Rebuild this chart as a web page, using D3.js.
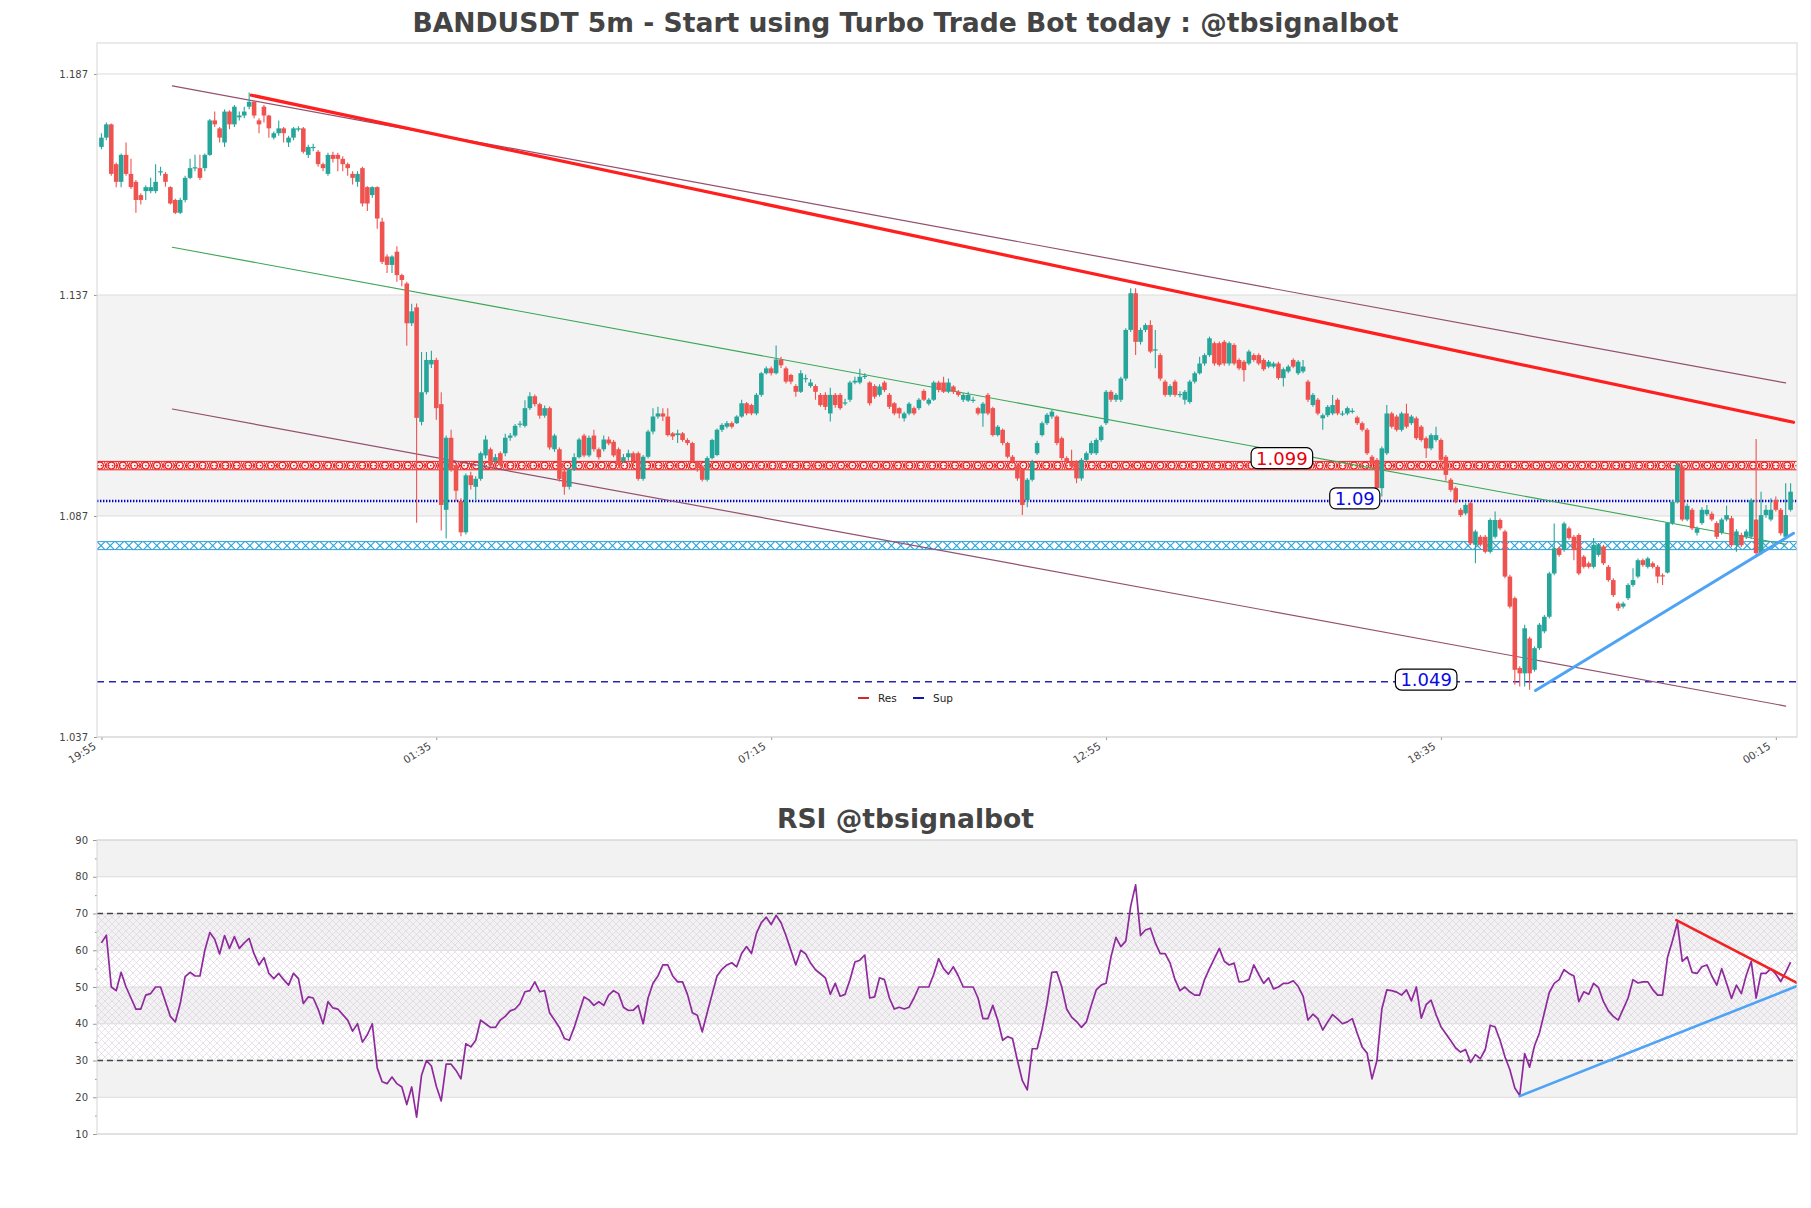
<!DOCTYPE html>
<html><head><meta charset="utf-8">
<script src="https://cdn.jsdelivr.net/npm/d3@7"></script>
<style>
html,body{margin:0;padding:0;background:#fff;}
svg{display:block;font-family:"DejaVu Sans",sans-serif;}
</style></head><body>
<svg id="chart" width="1811" height="1208"></svg>
<script>
// ---------------- DATA ----------------
const chartTitle = "BANDUSDT 5m - Start using Turbo Trade Bot today : @tbsignalbot";
const rsiTitle = "RSI @tbsignalbot";
const timeTickIndex = [0, 68, 136, 204, 272, 340];
const timeTickLabels = ["19:55", "01:35", "07:15", "12:55", "18:35", "00:15"];
const priceTicks = [1.037, 1.087, 1.137, 1.187];
const rsiTicks = [10, 20, 30, 40, 50, 60, 70, 80, 90];

const opens = [
1.1705,1.1726,1.1756,1.1666,1.1626,1.1687,1.1644,1.1626,1.1596,1.1605,
1.1605,1.1605,1.1648,1.1644,1.1614,1.1585,1.1556,1.1585,1.1635,1.1657,
1.1657,1.1657,1.1687,1.1765,1.1747,1.1715,1.1785,1.1756,1.1772,1.1776,
1.1796,1.1807,1.1765,1.1796,1.1776,1.1726,1.1736,1.1747,1.1715,1.1726,
1.1744,1.1747,1.1687,1.1703,1.1694,1.1666,1.1644,1.1687,1.1687,1.1678,
1.1666,1.1644,1.1626,1.1657,1.1614,1.1596,1.1614,1.1536,1.1457,1.1438,
1.1468,1.1415,1.1396,1.1306,1.1342,1.1083,1.1150,1.1213,1.1223,1.1123,
1.0884,1.1047,1.0985,1.0904,1.0833,1.0962,1.0936,1.0954,1.1007,1.1021,
1.0994,1.1012,1.1012,1.1047,1.1052,1.1077,1.1074,1.1114,1.1141,1.1123,
1.1097,1.1114,1.1021,1.1021,1.0971,1.0936,1.0976,1.1003,1.1052,1.1007,
1.1052,1.1021,1.1021,1.1043,1.1038,1.1021,1.0994,1.1003,1.1012,1.1012,
1.0954,1.1004,1.1061,1.1095,1.1102,1.1095,1.1057,1.1053,1.1057,1.1042,
1.1035,1.0993,1.0982,1.0952,1.1001,1.1008,1.1065,1.1072,1.1080,1.1080,
1.1095,1.1125,1.1121,1.1102,1.1144,1.1193,1.1204,1.1193,1.1224,1.1204,
1.1189,1.1164,1.1151,1.1180,1.1164,1.1164,1.1144,1.1144,1.1102,1.1144,
1.1144,1.1125,1.1133,1.1172,1.1172,1.1185,1.1172,1.1164,1.1144,1.1172,
1.1144,1.1125,1.1114,1.1091,1.1102,1.1114,1.1114,1.1153,1.1124,1.1133,
1.1172,1.1172,1.1151,1.1163,1.1151,1.1133,1.1131,1.1132,1.1114,1.1102,
1.1144,1.1114,1.1053,1.1065,1.1035,1.1004,1.0985,1.0974,1.0906,1.0952,
1.1012,1.1053,1.1080,1.1095,1.1095,1.1046,1.1001,1.0993,1.0993,1.0955,
1.0997,1.1012,1.1012,1.1042,1.1080,1.1151,1.1133,1.1133,1.1181,1.1291,
1.1374,1.1264,1.1291,1.1302,1.1245,1.1234,1.1174,1.1144,1.1174,1.1144,
1.1133,1.1128,1.1174,1.1193,1.1215,1.1234,1.1261,1.1261,1.1264,1.1215,
1.1257,1.1223,1.1219,1.1215,1.1234,1.1234,1.1223,1.1208,1.1208,1.1215,
1.1182,1.1197,1.1223,1.1193,1.1197,1.1174,1.1121,1.1133,1.1091,1.1098,
1.1102,1.1133,1.1101,1.1102,1.1107,1.1093,1.1080,1.1065,1.1004,1.0997,
1.0933,1.1012,1.1102,1.1095,1.1065,1.1102,1.1080,1.1091,1.1072,1.1046,
1.1023,1.1042,1.1042,1.1004,1.0952,1.0933,1.0884,1.0876,1.0899,1.0805,
1.0823,1.0823,1.0789,1.0823,1.0861,1.0835,1.0733,1.0684,1.0526,1.0514,
1.0593,1.0522,1.0571,1.0609,1.0642,1.0740,1.0797,1.0793,1.0842,1.0823,
1.0827,1.0778,1.0763,1.0755,1.0782,1.0801,1.0755,1.0725,1.0672,1.0665,
1.0684,1.0714,1.0733,1.0770,1.0755,1.0763,1.0755,1.0736,1.0742,1.0854,
1.0902,1.0982,1.0862,1.0884,1.0832,1.0854,1.0874,1.0875,1.0854,1.0832,
1.0862,1.0865,1.0804,1.0827,1.0823,1.0823,1.0862,1.0786,1.0872,1.0862,
1.0906,1.0884,1.0823,1.0884];

const highs = [
1.1736,1.1760,1.1758,1.1670,1.1690,1.1715,1.1678,1.1630,1.1600,1.1618,
1.1635,1.1666,1.1660,1.1648,1.1616,1.1588,1.1590,1.1640,1.1678,1.1687,
1.1687,1.1690,1.1768,1.1785,1.1750,1.1790,1.1788,1.1800,1.1785,1.1796,
1.1828,1.1810,1.1770,1.1800,1.1778,1.1740,1.1765,1.1750,1.1730,1.1750,
1.1752,1.1750,1.1710,1.1712,1.1698,1.1670,1.1692,1.1694,1.1692,1.1684,
1.1670,1.1650,1.1650,1.1660,1.1616,1.1616,1.1616,1.1545,1.1462,1.1460,
1.1480,1.1418,1.1400,1.1350,1.1351,1.1241,1.1241,1.1244,1.1228,1.1150,
1.1052,1.1065,1.0990,1.0910,1.0966,1.0970,1.0960,1.1016,1.1052,1.1025,
1.1010,1.1016,1.1056,1.1058,1.1078,1.1085,1.1132,1.1150,1.1145,1.1126,
1.1120,1.1118,1.1056,1.1025,1.0975,1.0980,1.1012,1.1047,1.1056,1.1052,
1.1065,1.1025,1.1052,1.1050,1.1042,1.1025,1.1010,1.1020,1.1016,1.1016,
1.1008,1.1065,1.1114,1.1117,1.1114,1.1114,1.1060,1.1065,1.1060,1.1046,
1.1038,1.0995,1.0985,1.1005,1.1045,1.1068,1.1080,1.1085,1.1084,1.1098,
1.1133,1.1128,1.1124,1.1148,1.1196,1.1208,1.1208,1.1256,1.1230,1.1208,
1.1192,1.1168,1.1200,1.1190,1.1180,1.1168,1.1148,1.1150,1.1160,1.1148,
1.1148,1.1135,1.1176,1.1185,1.1203,1.1193,1.1175,1.1168,1.1168,1.1176,
1.1148,1.1128,1.1116,1.1106,1.1128,1.1118,1.1137,1.1157,1.1137,1.1176,
1.1176,1.1185,1.1181,1.1166,1.1155,1.1148,1.1151,1.1140,1.1117,1.1128,
1.1148,1.1117,1.1076,1.1068,1.1038,1.1008,1.0988,1.0978,1.0956,1.0997,
1.1040,1.1084,1.1103,1.1110,1.1098,1.1050,1.1005,1.1020,1.0996,1.1001,
1.1016,1.1040,1.1046,1.1076,1.1155,1.1155,1.1148,1.1185,1.1295,1.1385,
1.1385,1.1296,1.1306,1.1313,1.1291,1.1238,1.1178,1.1168,1.1178,1.1152,
1.1155,1.1178,1.1197,1.1230,1.1238,1.1276,1.1265,1.1265,1.1268,1.1265,
1.1261,1.1227,1.1223,1.1246,1.1238,1.1238,1.1227,1.1223,1.1219,1.1219,
1.1206,1.1212,1.1227,1.1223,1.1223,1.1178,1.1148,1.1137,1.1102,1.1121,
1.1144,1.1137,1.1108,1.1118,1.1114,1.1097,1.1084,1.1069,1.1008,1.1001,
1.1027,1.1121,1.1106,1.1099,1.1106,1.1124,1.1099,1.1095,1.1076,1.1050,
1.1057,1.1072,1.1046,1.1008,1.0956,1.0937,1.0888,1.0899,1.0903,1.0839,
1.0827,1.0827,1.0865,1.0880,1.0865,1.0839,1.0737,1.0688,1.0530,1.0624,
1.0597,1.0575,1.0628,1.0646,1.0744,1.0853,1.0801,1.0857,1.0846,1.0827,
1.0831,1.0782,1.0767,1.0820,1.0809,1.0805,1.0759,1.0729,1.0676,1.0676,
1.0718,1.0752,1.0774,1.0774,1.0778,1.0767,1.0759,1.0740,1.0856,1.0906,
1.0990,1.0986,1.0898,1.0888,1.0846,1.0890,1.0895,1.0880,1.0858,1.0866,
1.0893,1.0870,1.0840,1.0832,1.0840,1.0910,1.1044,1.0925,1.0895,1.0910,
1.0914,1.0888,1.0944,1.0944];

const lows = [
1.1700,1.1720,1.1640,1.1614,1.1614,1.1640,1.1610,1.1556,1.1575,1.1585,
1.1600,1.1600,1.1640,1.1615,1.1575,1.1553,1.1553,1.1580,1.1632,1.1650,
1.1630,1.1650,1.1685,1.1750,1.1715,1.1705,1.1745,1.1750,1.1765,1.1770,
1.1790,1.1770,1.1736,1.1760,1.1726,1.1722,1.1730,1.1715,1.1705,1.1720,
1.1740,1.1690,1.1680,1.1695,1.1660,1.1650,1.1640,1.1670,1.1650,1.1650,
1.1640,1.1620,1.1615,1.1570,1.1560,1.1590,1.1520,1.1440,1.1420,1.1420,
1.1400,1.1390,1.1255,1.1300,1.0855,1.1075,1.1145,1.1205,1.1088,1.0837,
1.0819,1.0970,1.0904,1.0824,1.0828,1.0930,1.0904,1.0950,1.1000,1.0980,
1.0990,1.0980,1.1005,1.1040,1.1048,1.1070,1.1070,1.1110,1.1118,1.1090,
1.1092,1.1020,1.1015,1.0948,1.0918,1.0930,1.0972,1.1000,1.1003,1.1003,
1.1016,1.0998,1.1016,1.1030,1.1003,1.0980,1.0990,1.0995,1.0985,1.0950,
1.0950,1.1000,1.1055,1.1090,1.1085,1.1050,1.1042,1.1035,1.1038,1.1030,
1.0990,1.0970,1.0948,1.0948,1.0998,1.1005,1.1060,1.1068,1.1068,1.1078,
1.1092,1.1098,1.1098,1.1098,1.1140,1.1190,1.1188,1.1190,1.1205,1.1170,
1.1168,1.1140,1.1148,1.1172,1.1160,1.1133,1.1117,1.1110,1.1084,1.1115,
1.1110,1.1120,1.1128,1.1168,1.1168,1.1180,1.1120,1.1135,1.1140,1.1150,
1.1112,1.1098,1.1091,1.1084,1.1098,1.1098,1.1110,1.1130,1.1120,1.1130,
1.1150,1.1148,1.1148,1.1146,1.1140,1.1128,1.1128,1.1126,1.1098,1.1072,
1.1098,1.1050,1.1050,1.1030,1.1000,1.0988,1.0950,1.0872,1.0890,1.0948,
1.1008,1.1050,1.1076,1.1090,1.1030,1.0996,1.0988,1.0978,1.0944,1.0950,
1.0993,1.1008,1.1008,1.1038,1.1076,1.1128,1.1128,1.1128,1.1176,1.1286,
1.1234,1.1258,1.1286,1.1238,1.1204,1.1176,1.1140,1.1140,1.1140,1.1138,
1.1122,1.1124,1.1170,1.1190,1.1210,1.1230,1.1210,1.1208,1.1210,1.1210,
1.1211,1.1200,1.1174,1.1211,1.1219,1.1211,1.1198,1.1204,1.1204,1.1178,
1.1163,1.1193,1.1204,1.1189,1.1193,1.1128,1.1117,1.1098,1.1065,1.1094,
1.1098,1.1098,1.1096,1.1098,1.1102,1.1076,1.1061,1.1008,1.0985,1.0929,
1.0914,1.1008,1.1068,1.1061,1.1061,1.1068,1.1076,1.1042,1.1038,1.1001,
1.1019,1.1038,1.0993,1.0950,1.0925,1.0899,1.0868,1.0872,1.0804,1.0763,
1.0801,1.0785,1.0785,1.0819,1.0838,1.0729,1.0661,1.0488,1.0484,1.0484,
1.0477,1.0518,1.0567,1.0605,1.0638,1.0736,1.0778,1.0789,1.0816,1.0770,
1.0736,1.0751,1.0751,1.0751,1.0778,1.0759,1.0721,1.0687,1.0655,1.0661,
1.0680,1.0710,1.0729,1.0755,1.0751,1.0751,1.0718,1.0714,1.0740,1.0850,
1.0898,1.0858,1.0858,1.0838,1.0826,1.0850,1.0870,1.0858,1.0818,1.0828,
1.0858,1.0800,1.0789,1.0800,1.0818,1.0818,1.0782,1.0782,1.0866,1.0858,
1.0880,1.0826,1.0818,1.0880];

const closes = [
1.1726,1.1756,1.1644,1.1626,1.1687,1.1644,1.1614,1.1585,1.1585,1.1614,
1.1614,1.1626,1.1650,1.1626,1.1577,1.1556,1.1585,1.1635,1.1657,1.1659,
1.1635,1.1687,1.1765,1.1756,1.1726,1.1785,1.1756,1.1796,1.1776,1.1785,
1.1807,1.1776,1.1756,1.1776,1.1747,1.1736,1.1747,1.1736,1.1726,1.1747,
1.1747,1.1694,1.1705,1.1705,1.1666,1.1657,1.1687,1.1678,1.1678,1.1666,
1.1657,1.1635,1.1644,1.1577,1.1577,1.1614,1.1543,1.1445,1.1438,1.1457,
1.1415,1.1404,1.1306,1.1333,1.1092,1.1150,1.1223,1.1223,1.1114,1.0895,
1.1047,1.0976,1.0927,1.0833,1.0962,1.0940,1.0954,1.1012,1.1043,1.0985,
1.1003,1.0985,1.1047,1.1052,1.1074,1.1079,1.1114,1.1141,1.1123,1.1097,
1.1114,1.1025,1.1052,1.0954,1.0936,1.0976,1.1003,1.1043,1.1007,1.1047,
1.1021,1.1003,1.1043,1.1034,1.1007,1.0985,1.1003,1.1012,1.0994,1.0954,
1.1004,1.1061,1.1095,1.1102,1.1095,1.1053,1.1050,1.1057,1.1042,1.1035,
1.0993,1.0978,1.0952,1.1001,1.1042,1.1065,1.1076,1.1080,1.1072,1.1095,
1.1125,1.1102,1.1102,1.1144,1.1193,1.1204,1.1193,1.1224,1.1211,1.1174,
1.1174,1.1151,1.1193,1.1182,1.1172,1.1151,1.1121,1.1117,1.1144,1.1121,
1.1114,1.1127,1.1172,1.1176,1.1185,1.1187,1.1125,1.1140,1.1163,1.1155,
1.1117,1.1102,1.1102,1.1102,1.1124,1.1102,1.1133,1.1133,1.1133,1.1172,
1.1155,1.1151,1.1172,1.1151,1.1144,1.1144,1.1144,1.1133,1.1102,1.1124,
1.1102,1.1053,1.1072,1.1035,1.1004,1.0993,1.0955,1.0895,1.0952,1.0993,
1.1035,1.1080,1.1099,1.1106,1.1035,1.1001,1.0993,1.0982,1.0955,1.0997,
1.1012,1.1035,1.1042,1.1072,1.1151,1.1133,1.1144,1.1181,1.1291,1.1374,
1.1264,1.1291,1.1302,1.1242,1.1247,1.1181,1.1144,1.1164,1.1144,1.1146,
1.1151,1.1174,1.1193,1.1215,1.1234,1.1272,1.1215,1.1212,1.1215,1.1261,
1.1215,1.1204,1.1200,1.1242,1.1223,1.1215,1.1202,1.1219,1.1215,1.1182,
1.1202,1.1208,1.1208,1.1219,1.1208,1.1133,1.1144,1.1102,1.1098,1.1117,
1.1121,1.1102,1.1102,1.1114,1.1108,1.1080,1.1065,1.1012,1.0990,1.0933,
1.1023,1.1102,1.1072,1.1065,1.1102,1.1072,1.1095,1.1046,1.1042,1.1023,
1.1053,1.1053,1.0997,1.0963,1.0929,1.0903,1.0872,1.0895,1.0808,1.0835,
1.0805,1.0789,1.0861,1.0861,1.0842,1.0733,1.0665,1.0522,1.0514,1.0616,
1.0514,1.0571,1.0624,1.0642,1.0740,1.0797,1.0782,1.0853,1.0820,1.0793,
1.0740,1.0755,1.0755,1.0805,1.0805,1.0763,1.0725,1.0691,1.0661,1.0672,
1.0714,1.0725,1.0770,1.0759,1.0774,1.0755,1.0733,1.0733,1.0854,1.0902,
1.0985,1.0862,1.0893,1.0842,1.0842,1.0884,1.0884,1.0862,1.0823,1.0862,
1.0872,1.0804,1.0835,1.0804,1.0835,1.0906,1.0786,1.0872,1.0884,1.0884,
1.0884,1.0831,1.0872,1.0925];

const rsi = [
62,64.1,50,49,54,50,47,44,44,47.8,
48.2,50,50,46,42,40.5,45.5,52.8,54,53,
53,60,64.8,63,59,64,60.5,63.7,60.5,62,
63.2,59,56,58,53.7,52.3,53.7,52,50.5,53.7,
52.3,45.5,47.3,47,44,40,46,44.3,44,42.5,
41,38,40,35,37,40,28,24.2,23.7,25.5,
23.7,22.8,18,22.8,14.6,26,30,28.5,23,19,
29,29,27.3,25,34.6,33.7,35.5,41,40,39,
39,41,42,43.5,44,45.5,48.7,49,51.4,48.7,
49,43,41,39,36,35.5,39,43.2,47.3,46.5,
45,46,45,47.8,49,48.2,44.5,43.6,43.7,45,
40,47,51,53,56,56,53,51.4,51.4,48,
43,42.3,37.8,43,48,53,54.8,56,56.6,55.5,
59.1,61,59.1,64.6,67.5,69,67,69.5,67.5,64,
60,56,60,59,56.5,54.7,53.6,52.5,48,51,
47.5,48,52,56.8,57.3,58.7,47,47.3,52.5,52,
47,44,44.5,44,44.5,47,50,50,50,53.4,
57.7,55,53.5,55.5,53,50,50,50,47,41.4,
41.4,45,41,35.5,36.5,36,30,24.5,22,33.2,
33.2,38.5,45.5,54,54.1,50,44,41.8,40.6,39,
40.5,45,49.2,50.5,51,58.2,63.5,61,62.5,72,
77.8,64,65.5,66,62,59.1,59.1,56.5,52,49,
50,48.7,47.8,47.8,52,55,57.8,60.5,57,56,
56.5,51.4,51.5,52,56,53.4,51,52.5,49.5,50,
51,51,51.7,50.2,47.5,41,42.6,41.4,38.3,40.5,
42.5,41.3,40,40.5,41.4,37.4,33.7,32,25,30,
44,49.2,49,48.6,47.8,49.2,46.2,50,41.5,45.2,
46.4,42.5,39.2,37.3,35.4,33.4,32.3,33,29.5,31.6,
30.5,33,39.6,39.1,35.5,31,27.5,22.5,20.5,31.9,
28.2,34,37.5,43,48.5,51,52,54.7,53.7,53,
46,48.7,48,51,49.8,46,43.5,42,41,44,
47,52,51.1,51.4,51.4,49.3,47.8,47.8,58,62.5,
67.5,57,58.2,54,53.7,55.5,56,53,50.5,55,
51,46.9,50.5,48.2,53.2,57,47,53.7,53.7,55,
53.5,51.5,54,56.8];

// trend / channel lines: [startIndex, startPrice, endIndex, endPrice]
const channelUpper = [14.4, 1.1843, 342.0, 1.1171];
const channelMid   = [14.4, 1.1478, 342.0, 1.0806];
const channelLower = [14.4, 1.1112, 342.0, 1.0440];
const resTrend     = [30.45, 1.1822, 343.6, 1.1082];
const supTrend     = [291.2, 1.0475, 343.6, 1.0831];
const rsiResTrend  = [319.8, 68.2, 344.2, 51.2];
const rsiSupTrend  = [288.0, 20.3, 344.2, 50.2];

// horizontal levels
const resLevel = 1.0984;
const supLevel = 1.0904;
const supBand = 1.0803;
const supLow = 1.0495;
const levelLabels = [
  {text: "1.099", i: 239.7, p: 1.1001, color: "#e8000b"},
  {text: "1.09",  i: 254.5, p: 1.0910, color: "#0a0ae0"},
  {text: "1.049", i: 269.0, p: 1.0500, color: "#0a0ae0"}
];
const legendItems = [{name: "Res", color: "#d62728"}, {name: "Sup", color: "#1515a8"}];

// ---------------- LAYOUT ----------------
const svg = d3.select('#chart');
const L = 97, R = 1797, PT = 43, PB = 737, RT = 840, RB = 1134;
const x = d3.scaleLinear().domain([-0.9, 344.3]).range([L, R]);
const y = d3.scaleLinear().domain([1.037, 1.19401]).range([PB, PT]);
const ry = d3.scaleLinear().domain([10, 90]).range([RB, RT]);
const step = x(1) - x(0);
const UP = "#26a69a", DOWN = "#ef5350";

const defs = svg.append('defs');
defs.append('clipPath').attr('id', 'clipP').append('rect')
  .attr('x', L).attr('y', PT).attr('width', R - L).attr('height', PB - PT);
defs.append('clipPath').attr('id', 'clipR').append('rect')
  .attr('x', L).attr('y', RT).attr('width', R - L).attr('height', RB - RT);
const hatch = defs.append('pattern').attr('id', 'hatch').attr('patternUnits', 'userSpaceOnUse')
  .attr('width', 7).attr('height', 7);
hatch.append('path').attr('d', 'M0,0 L7,7 M7,0 L0,7 M-1,6 L1,8 M6,-1 L8,1')
  .attr('stroke', '#d6c9de').attr('stroke-width', 0.55).attr('fill', 'none');

// ---------------- TITLES ----------------
svg.append('text').attr('x', 905.5).attr('y', 32).attr('text-anchor', 'middle')
  .attr('font-size', 26.6).attr('font-weight', 'bold').attr('fill', '#444').text(chartTitle);
svg.append('text').attr('x', 905.5).attr('y', 828).attr('text-anchor', 'middle')
  .attr('font-size', 26.6).attr('font-weight', 'bold').attr('fill', '#444').text(rsiTitle);

// ---------------- PRICE PANEL ----------------
const gp = svg.append('g');
gp.append('rect').attr('x', L).attr('y', y(1.137)).attr('width', R - L)
  .attr('height', y(1.087) - y(1.137)).attr('fill', '#f3f3f3');
gp.selectAll('.grid').data(priceTicks).enter().append('line')
  .attr('x1', L).attr('x2', R).attr('y1', d => y(d)).attr('y2', d => y(d))
  .attr('stroke', '#dcdcdc').attr('stroke-width', 1);

const yAxisP = d3.axisLeft(y).tickValues(priceTicks).tickFormat(d3.format('.3f')).tickSize(3).tickPadding(6);
const gyp = svg.append('g').attr('transform', `translate(${L},0)`).call(yAxisP);
gyp.select('.domain').remove();
gyp.selectAll('text').attr('font-size', 10).attr('fill', '#444').attr('font-family', 'DejaVu Sans');
gyp.selectAll('line').attr('stroke', '#999');

const xAxisP = d3.axisBottom(x).tickValues(timeTickIndex).tickFormat((d, k) => timeTickLabels[k]).tickSize(3);
const gxp = svg.append('g').attr('transform', `translate(0,${PB})`).call(xAxisP);
gxp.select('.domain').remove();
gxp.selectAll('line').attr('stroke', '#999');
gxp.selectAll('text').attr('font-size', 10.5).attr('fill', '#444').attr('font-family', 'DejaVu Sans')
  .attr('text-anchor', 'end').attr('dy', 0).attr('y', 0)
  .attr('transform', 'translate(-5,11) rotate(-32)');

const pc = gp.append('g').attr('clip-path', 'url(#clipP)');

function seg(g, line, scaleY, color, width, dash) {
  const e = g.append('line')
    .attr('x1', x(line[0])).attr('y1', scaleY(line[1]))
    .attr('x2', x(line[2])).attr('y2', scaleY(line[3]))
    .attr('stroke', color).attr('stroke-width', width).attr('stroke-linecap', 'round');
  if (dash) e.attr('stroke-dasharray', dash);
  return e;
}

// red resistance band with markers
(function () {
  const yy = y(resLevel);
  const g = pc.append('g');
  g.append('line').attr('x1', L).attr('x2', R).attr('y1', yy - 4.2).attr('y2', yy - 4.2).attr('stroke', '#f01c1c').attr('stroke-width', 1);
  g.append('line').attr('x1', L).attr('x2', R).attr('y1', yy + 4.2).attr('y2', yy + 4.2).attr('stroke', '#f01c1c').attr('stroke-width', 1);
  g.append('line').attr('x1', L).attr('x2', R).attr('y1', yy).attr('y2', yy).attr('stroke', '#f01c1c').attr('stroke-width', 1.1).attr('stroke-dasharray', '1.5,2.2');
  const marks = d3.range(L + 3, R, 11.4);
  g.selectAll('circle').data(marks).enter().append('circle')
    .attr('cx', d => d).attr('cy', yy).attr('r', 3.4).attr('fill', 'none')
    .attr('stroke', '#f01c1c').attr('stroke-width', 1.2);
  g.selectAll('path').data(marks).enter().append('path')
    .attr('d', d => `M${d + 4.4},${yy - 3.6} L${d + 7.4},${yy + 3.6} M${d + 7.4},${yy - 3.6} L${d + 4.4},${yy + 3.6}`)
    .attr('stroke', '#f01c1c').attr('stroke-width', 1).attr('fill', 'none');
})();

// blue dotted support
pc.append('line').attr('x1', L).attr('x2', R).attr('y1', y(supLevel)).attr('y2', y(supLevel))
  .attr('stroke', '#0000c8').attr('stroke-width', 2.6).attr('stroke-dasharray', '1.4,1.6');

// cyan X band
(function () {
  const yy = y(supBand);
  const g = pc.append('g');
  g.append('line').attr('x1', L).attr('x2', R).attr('y1', yy - 4).attr('y2', yy - 4).attr('stroke', '#2ba2d8').attr('stroke-width', 1);
  g.append('line').attr('x1', L).attr('x2', R).attr('y1', yy + 4).attr('y2', yy + 4).attr('stroke', '#2ba2d8').attr('stroke-width', 1);
  const marks = d3.range(L + 4, R, 9.3);
  g.selectAll('path').data(marks).enter().append('path')
    .attr('d', d => `M${d - 4},${yy - 4} L${d + 4},${yy + 4} M${d + 4},${yy - 4} L${d - 4},${yy + 4}`)
    .attr('stroke', '#2ba2d8').attr('stroke-width', 1.1).attr('fill', 'none');
})();

// dashed lower support
pc.append('line').attr('x1', L).attr('x2', R).attr('y1', y(supLow)).attr('y2', y(supLow))
  .attr('stroke', '#2626b4').attr('stroke-width', 1.4).attr('stroke-dasharray', '7,5');

// channel lines
seg(pc, channelUpper, y, '#94506f', 1.2);
seg(pc, channelLower, y, '#94506f', 1.2);
seg(pc, channelMid, y, '#3aa655', 1.1);

// candles
const idx = d3.range(closes.length);
const cg = pc.append('g');
cg.selectAll('.wick').data(idx).enter().append('line')
  .attr('x1', i => x(i)).attr('x2', i => x(i))
  .attr('y1', i => y(highs[i])).attr('y2', i => y(lows[i]))
  .attr('stroke', i => closes[i] >= opens[i] ? UP : DOWN).attr('stroke-width', 1.1);
const bw = step * 0.93;
cg.selectAll('.body').data(idx).enter().append('rect')
  .attr('x', i => x(i) - bw / 2).attr('width', bw)
  .attr('y', i => y(Math.max(opens[i], closes[i])))
  .attr('height', i => Math.max(1.2, Math.abs(y(opens[i]) - y(closes[i]))))
  .attr('fill', i => closes[i] >= opens[i] ? UP : DOWN);

// trend lines
seg(pc, resTrend, y, '#ff1f1f', 3.2);
seg(pc, supTrend, y, '#4ea3f5', 3);

// level labels
levelLabels.forEach(lb => {
  const g = svg.append('g');
  const t = g.append('text').attr('x', x(lb.i)).attr('y', y(lb.p)).attr('text-anchor', 'middle')
    .attr('dominant-baseline', 'central').attr('font-size', 18).attr('fill', lb.color).text(lb.text);
  const bb = t.node().getBBox();
  g.insert('rect', 'text').attr('x', bb.x - 5).attr('y', y(lb.p) - 10.5).attr('width', bb.width + 10)
    .attr('height', 21).attr('rx', 6).attr('fill', '#fff').attr('stroke', '#000').attr('stroke-width', 1.2);
});

// legend
const lg = svg.append('g');
legendItems.forEach((d, k) => {
  const x0 = 858 + k * 55;
  lg.append('line').attr('x1', x0).attr('x2', x0 + 11).attr('y1', 698).attr('y2', 698)
    .attr('stroke', d.color).attr('stroke-width', 2);
  lg.append('text').attr('x', x0 + 20).attr('y', 701.5).attr('font-size', 10.5).attr('fill', '#222').text(d.name);
});

// frame
svg.append('rect').attr('x', L).attr('y', PT).attr('width', R - L).attr('height', PB - PT)
  .attr('fill', 'none').attr('stroke', '#d6d6d6').attr('stroke-width', 1);

// ---------------- RSI PANEL ----------------
const gr = svg.append('g');
[[80, 90], [60, 70], [40, 50], [20, 30]].forEach(b => {
  gr.append('rect').attr('x', L).attr('y', ry(b[1])).attr('width', R - L)
    .attr('height', ry(b[0]) - ry(b[1])).attr('fill', '#f2f2f2');
});
gr.append('rect').attr('x', L).attr('y', ry(70)).attr('width', R - L)
  .attr('height', ry(30) - ry(70)).attr('fill', 'url(#hatch)');
gr.selectAll('.rgrid').data(rsiTicks).enter().append('line')
  .attr('x1', L).attr('x2', R).attr('y1', d => ry(d)).attr('y2', d => ry(d))
  .attr('stroke', '#dcdcdc').attr('stroke-width', 1);
[30, 70].forEach(v => {
  gr.append('line').attr('x1', L).attr('x2', R).attr('y1', ry(v)).attr('y2', ry(v))
    .attr('stroke', '#444').attr('stroke-width', 1.3).attr('stroke-dasharray', '6,4');
});

const yAxisR = d3.axisLeft(ry).tickValues(rsiTicks).tickSize(4).tickPadding(5);
const gyr = svg.append('g').attr('transform', `translate(${L},0)`).call(yAxisR);
gyr.select('.domain').remove();
gyr.selectAll('text').attr('font-size', 10).attr('fill', '#444').attr('font-family', 'DejaVu Sans');
gyr.selectAll('line').attr('stroke', '#999');
const yAxisRminor = d3.axisLeft(ry).tickValues(d3.range(15, 90, 10)).tickSize(2).tickFormat('');
const gyr2 = svg.append('g').attr('transform', `translate(${L},0)`).call(yAxisRminor);
gyr2.select('.domain').remove();
gyr2.selectAll('line').attr('stroke', '#999');

const rc = gr.append('g').attr('clip-path', 'url(#clipR)');
rc.append('path').datum(idx)
  .attr('d', d3.line().x(i => x(i)).y(i => ry(rsi[i])))
  .attr('fill', 'none').attr('stroke', '#8e2a9c').attr('stroke-width', 1.7).attr('stroke-linejoin', 'round');
seg(rc, rsiResTrend, ry, '#f02424', 2.6);
seg(rc, rsiSupTrend, ry, '#4ea3f5', 2.6);

svg.append('rect').attr('x', L).attr('y', RT).attr('width', R - L).attr('height', RB - RT)
  .attr('fill', 'none').attr('stroke', '#d6d6d6').attr('stroke-width', 1);
</script>
</body></html>
